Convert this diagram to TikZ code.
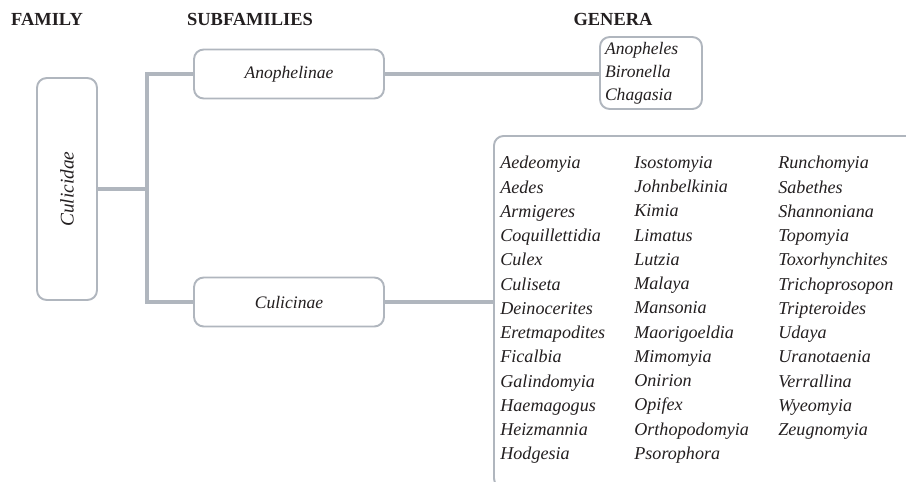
\documentclass[tikz,border=0pt]{standalone}
\usepackage{fontspec}
\setmainfont{Liberation Serif}
\usetikzlibrary{positioning}
\definecolor{linegray}{RGB}{176,182,190}
\definecolor{inkgray}{RGB}{35,31,32}
\tikzset{
    headnode/.style = {font=\fontsize{10.5}{12}\selectfont\bfseries,text=inkgray},
    boxnode/.style = {rectangle, rounded corners=5.5pt, draw=linegray, line width=1.1pt, fill=white, font=\fontsize{10}{12}\selectfont\itshape, text=inkgray},
    genbox/.style = {boxnode, align=left, inner xsep=0.1cm, inner ysep=0pt, font=\fontsize{10}{13}\selectfont\itshape},
    genlist/.style = {align=left, inner sep=0pt, text=inkgray, font=\fontsize{10.3}{13.8}\selectfont\itshape},
    edgeg/.style = {-, line width=2.8pt, linegray},
}

\begin{document}
\begin{tikzpicture}[x=0.02cm, y=-0.02cm]
\useasboundingbox (0,0) rectangle (906,481);
\clip (0,0) rectangle (906,481);

% headings
\node[headnode] at ( 47, 19) (hfam) {FAMILY};
\node[headnode] at (250, 19) (hsub) {SUBFAMILIES};
\node[headnode] at (613, 19) (hgen) {GENERA};

% family and subfamilies
\node[boxnode, rotate=90, minimum width=4.44cm, minimum height=1.2cm, font=\fontsize{11}{12}\selectfont\itshape] at (67,189) (fam) {Culicidae};
\node[boxnode, minimum width=3.8cm, minimum height=0.98cm] at (289, 74) (ano) {Anophelinae};
\node[boxnode, minimum width=3.8cm, minimum height=0.98cm] at (289,302) (cul) {Culicinae};
\coordinate (split) at (147,189);

% genera
\node[genbox, text width=1.84cm, minimum height=1.44cm] at (651, 73) (anogen) {Anopheles\\Bironella\\Chagasia};
\node[boxnode, anchor=north west, minimum width=8.6cm, minimum height=7.04cm] at (493,135) (culgen) {};
\node[genlist, anchor=north west] at (500,156) (col1) {Aedeomyia\\Aedes\\Armigeres\\Coquillettidia\\Culex\\Culiseta\\Deinocerites\\Eretmapodites\\Ficalbia\\Galindomyia\\Haemagogus\\Heizmannia\\Hodgesia};
\node[genlist, anchor=north west] at (634,156) (col2) {Isostomyia\\Johnbelkinia\\Kimia\\Limatus\\Lutzia\\Malaya\\Mansonia\\Maorigoeldia\\Mimomyia\\Onirion\\Opifex\\Orthopodomyia\\Psorophora};
\node[genlist, anchor=north west] at (778,156) (col3) {Runchomyia\\Sabethes\\Shannoniana\\Topomyia\\Toxorhynchites\\Trichoprosopon\\Tripteroides\\Udaya\\Uranotaenia\\Verrallina\\Wyeomyia\\Zeugnomyia};

\draw[edgeg] (fam.south) -- (split);
\draw[edgeg] (ano.west) -| (split) |- (cul.west);
\draw[edgeg] (ano.east) -- (ano.east -| anogen.west);
\draw[edgeg] (cul.east) -- (cul.east -| culgen.west);

\end{tikzpicture}
\end{document}
